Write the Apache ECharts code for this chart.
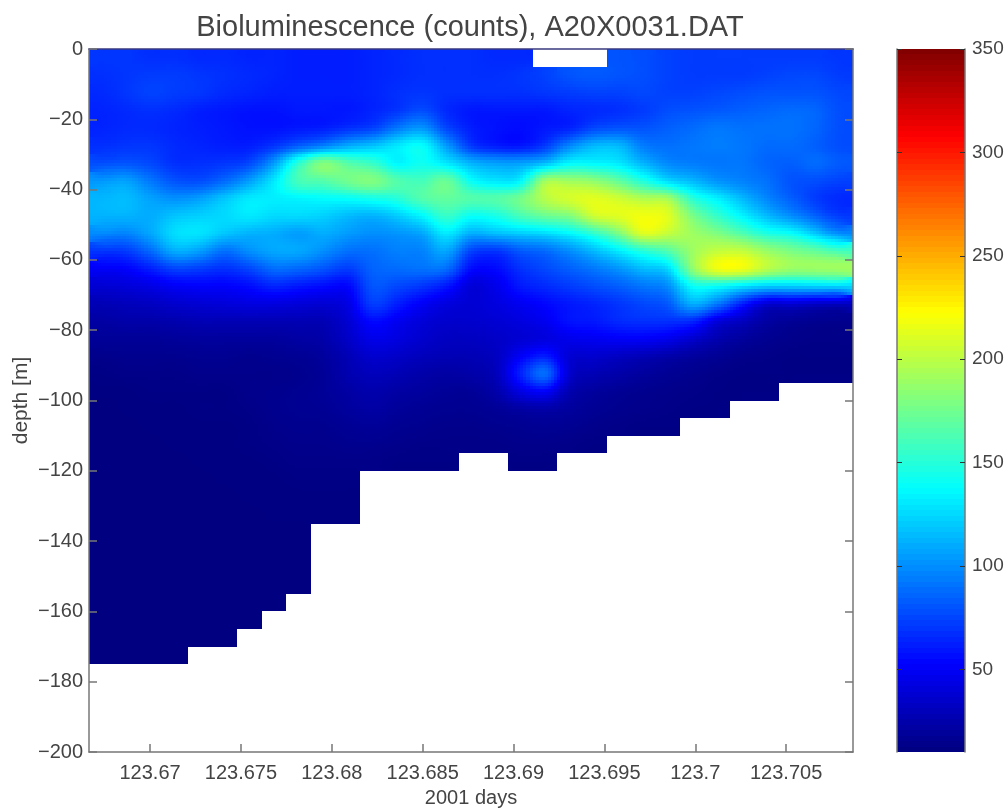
<!DOCTYPE html>
<html>
<head>
<meta charset="utf-8">
<style>html,body{margin:0;padding:0;background:#fff}#c{width:1008px;height:810px}</style>
<script src="https://cdn.jsdelivr.net/npm/echarts@6/dist/echarts.min.js"></script>
</head>
<body>
<div id="c"></div>
<script>
const titleText = 'Bioluminescence (counts), A20X0031.DAT';
const xName = '2001 days';
const yName = 'depth [m]';
const xTicks = [123.67,123.675,123.68,123.685,123.69,123.695,123.7,123.705];
const yTicks = [0,-20,-40,-60,-80,-100,-120,-140,-160,-180,-200];
const barTicks = [50,100,150,200,250,300,350];
const xMin = 123.66664, xMax = 123.70868;
const depthStep = 5;
const barMin = 10, barMax = 350, levels = 128;
const _ = null;
const counts = [
[70,70,68,68,66,66,64,64,62,62,62,64,66,68,68,68,66,66,_,_,_,80,78,74,72,72,72,72,72,72,70],
[68,70,72,72,70,68,66,64,62,62,62,64,66,68,68,68,68,70,74,80,82,80,78,74,72,72,72,74,76,76,72],
[66,70,74,72,70,66,64,62,62,62,62,64,68,70,68,68,68,68,70,72,74,74,76,74,74,76,78,80,80,80,76],
[64,66,68,66,62,60,58,58,60,60,60,64,70,78,66,60,60,60,60,64,66,68,72,78,80,82,84,86,88,86,78],
[64,66,66,64,62,60,58,58,60,62,68,74,92,102,76,62,58,56,60,64,76,80,80,84,88,92,90,90,90,86,78],
[68,70,70,66,64,62,62,70,84,96,110,118,130,138,105,72,62,60,72,98,114,114,94,90,92,94,92,88,88,84,78],
[78,80,76,68,68,70,76,104,150,180,165,155,135,142,130,112,105,105,115,135,135,130,112,98,94,92,92,86,84,88,82],
[103,106,92,80,78,88,105,130,160,165,175,180,165,160,172,140,130,135,190,190,185,170,148,126,114,102,96,90,80,78,74],
[113,115,106,100,105,118,130,132,135,138,140,145,150,165,170,165,165,175,198,208,212,205,195,190,150,132,114,97,84,72,66],
[112,112,110,118,122,125,130,125,125,122,115,112,120,135,155,140,145,160,172,180,205,212,218,212,178,155,135,115,100,85,72],
[98,96,108,126,128,118,112,110,105,110,104,100,102,108,130,110,115,120,125,135,152,178,210,202,190,180,165,148,140,120,100],
[70,72,88,110,105,90,100,108,108,100,90,90,95,96,108,75,70,82,88,100,115,132,150,165,190,202,202,188,178,170,160],
[50,52,62,74,72,68,75,88,86,80,72,85,88,90,88,56,55,68,76,84,92,102,115,125,185,216,216,198,188,188,190],
[38,40,44,50,52,52,56,64,60,56,54,80,76,70,60,40,46,60,66,72,78,84,92,100,140,140,130,122,122,124,125],
[28,30,32,36,38,40,42,42,40,38,44,72,62,50,42,38,42,48,54,60,64,70,76,82,110,92,62,38,38,34,32],
[22,24,24,26,28,28,28,28,28,28,38,55,48,40,36,36,38,42,48,58,60,66,68,68,65,42,32,22,18,16,15],
[18,18,18,19,20,20,20,20,22,24,34,45,42,36,32,32,34,38,42,46,48,50,50,46,36,26,20,16,14,13,13],
[14,15,15,15,16,16,15,16,17,20,28,36,34,30,28,28,32,50,62,38,36,32,28,24,20,17,14,13,12,12,12],
[12,13,13,13,14,14,14,14,15,18,26,30,28,24,22,24,30,62,88,36,28,24,20,17,15,13,12,12,12,12,12],
[11,11,12,12,12,12,14,15,16,18,22,25,22,20,18,18,24,42,50,26,20,17,15,14,13,12,12,12],
[10,11,11,11,12,12,13,15,16,17,20,22,19,17,16,16,18,22,24,20,17,15,14,13,12,12],
[10,10,11,11,11,11,12,14,15,15,17,18,16,15,14,14,15,16,17,16,14,13,12,12],
[10,10,10,11,11,11,12,13,14,14,15,15,14,13,13,13,13,14,14,13,12],
[10,10,10,10,11,11,11,12,13,13,13,13,12,12,12,_,_,12,12],
[10,10,10,10,10,11,11,11,12,12,12],
[10,10,10,10,10,10,11,11,11,11,11],
[10,10,10,10,10,10,10,11,11,11,11],
[10,10,10,10,10,10,10,10,10],
[10,10,10,10,10,10,10,10,10],
[10,10,10,10,10,10,10,10,10],
[10,10,10,10,10,10,10,10,10],
[10,10,10,10,10,10,10,10],
[10,10,10,10,10,10,10],
[10,10,10,10,10,10],
[10,10,10,10]
];
const nCols = 31;
const xStep = (xMax - xMin) / nCols;

function jet(t){
  const c = x => Math.max(0, Math.min(1, 1.5 - Math.abs(4*t - x)));
  return 'rgb(' + Math.round(255*c(3)) + ',' + Math.round(255*c(2)) + ',' + Math.round(255*c(1)) + ')';
}
function colorOf(v){
  return jet(Math.max(0, Math.min(1, (v - barMin) / (barMax - barMin))));
}
function cell(i, j){
  const r = counts[j];
  if (!r) return null;
  const v = r[i];
  return v === undefined ? null : v;
}
function weights(t){
  return [(-t*t*t + 2*t*t - t)/2, (3*t*t*t - 5*t*t + 2)/2, (-3*t*t*t + 4*t*t + t)/2, (t*t*t - t*t)/2];
}
// smooth reconstruction between the cell centres, keeping the blocky edge of the missing cells
function sample(i, j, u, v){
  const own = cell(i, j);
  const bi = u < 0.5 ? i - 1 : i, bj = v < 0.5 ? j - 1 : j;
  const tu = u < 0.5 ? u + 0.5 : u - 0.5, tv = v < 0.5 ? v + 0.5 : v - 0.5;
  const wu = weights(tu), wv = weights(tv);
  let sum = 0;
  for (let a = 0; a < 4; a++) for (let b = 0; b < 4; b++) {
    const c = cell(bi - 1 + a, bj - 1 + b);
    sum += wu[a] * wv[b] * (c === null ? own : c);
  }
  return sum;
}
const cellData = [];
counts.forEach((row, j) => row.forEach((v, i) => {
  if (v !== null) cellData.push([xMin + (i + 0.5) * xStep, -(j + 0.5) * depthStep, v, i, j]);
}));
const subX = 8, subY = 6;
function renderCell(params, api){
  const i = api.value(3), j = api.value(4);
  const x0 = xMin + i * xStep, y0 = -j * depthStep;
  const children = [];
  for (let a = 0; a < subX; a++) for (let b = 0; b < subY; b++) {
    const p0 = api.coord([x0 + a / subX * xStep, y0 - b / subY * depthStep]);
    const p1 = api.coord([x0 + (a + 1) / subX * xStep, y0 - (b + 1) / subY * depthStep]);
    const l = Math.round(p0[0]), t = Math.round(p0[1]);
    children.push({type:'rect', shape:{x:l, y:t, width:Math.round(p1[0]) - l, height:Math.round(p1[1]) - t},
      style:{fill: colorOf(sample(i, j, (a + 0.5) / subX, (b + 0.5) / subY))}, silent:true});
  }
  return {type:'group', children};
}
const barData = [];
for (let k = 0; k < levels; k++) barData.push([0, barMin + k * (barMax - barMin) / levels, k]);
function renderBar(params, api){
  const k = api.value(2);
  const step = (barMax - barMin) / levels;
  const p0 = api.coord([0, barMin + k * step]);
  const p1 = api.coord([1, barMin + (k + 1) * step]);
  return {type:'rect', shape:{x:p0[0], y:Math.round(p1[1]), width:p1[0] - p0[0], height:Math.round(p0[1]) - Math.round(p1[1])},
    style:{fill: jet((k + 0.5) / levels)}, silent:true};
}
const ink = '#444444', frame = '#777777', font = 'Liberation Sans';
const lineStyle = {color: frame, width: 1.5};
const chart = echarts.init(document.getElementById('c'), null, {renderer:'canvas'});
chart.setOption({
  animation:false,
  backgroundColor:'#fff',
  title:{text:titleText, left:465, top:8, textAlign:'center',
    textStyle:{fontFamily:font, fontSize:29, fontWeight:'normal', color:ink}},
  grid:[
    {left:89, top:49, width:764, height:703, containLabel:false, outerBoundsMode:'none'},
    {left:897, top:49, width:68, height:703, containLabel:false, outerBoundsMode:'none'}
  ],
  xAxis:[
    {type:'value', gridIndex:0, min:xMin, max:xMax, position:'bottom', z:10,
     splitLine:{show:false}, axisLine:{show:true, onZero:false, lineStyle},
     axisTick:{show:true, inside:true, length:8, customValues:xTicks, lineStyle},
     axisLabel:{show:true, customValues:xTicks, margin:11, color:ink, fontFamily:font, fontSize:20, hideOverlap:false,
       formatter:v => String(parseFloat(v.toFixed(3)))},
     name:xName, nameLocation:'middle', nameGap:36, nameMoveOverlap:false,
     nameTextStyle:{color:ink, fontFamily:font, fontSize:20}},
    {type:'value', gridIndex:0, min:xMin, max:xMax, position:'top', z:10,
     splitLine:{show:false}, axisLine:{show:true, onZero:false, lineStyle:{color:'#3a3a80', width:1.5}},
     axisTick:{show:false}, axisLabel:{show:false}},
    {type:'value', gridIndex:1, min:0, max:1, show:false, splitLine:{show:false}}
  ],
  yAxis:[
    {type:'value', gridIndex:0, min:-200, max:0, interval:20, position:'left', z:10,
     splitLine:{show:false}, axisLine:{show:true, onZero:false, lineStyle},
     axisTick:{show:true, inside:true, length:8, lineStyle},
     axisLabel:{show:true, customValues:yTicks, margin:6, color:ink, fontFamily:font, fontSize:20, hideOverlap:false,
       formatter:v => String(v).replace('-', '\u2212')},
     name:yName, nameLocation:'middle', nameGap:57, nameRotate:90, nameMoveOverlap:false,
     nameTextStyle:{color:ink, fontFamily:font, fontSize:21}},
    {type:'value', gridIndex:0, min:-200, max:0, interval:20, position:'right', z:10,
     splitLine:{show:false}, axisLine:{show:true, onZero:false, lineStyle},
     axisTick:{show:true, inside:true, length:8, lineStyle}, axisLabel:{show:false}},
    {type:'value', gridIndex:1, min:barMin, max:barMax, position:'right', z:10,
     splitLine:{show:false}, axisLine:{show:true, onZero:false, lineStyle},
     axisTick:{show:true, inside:true, length:5, customValues:barTicks, lineStyle:{color:'#333', width:1}},
     axisLabel:{show:true, customValues:barTicks, margin:7, color:ink, fontFamily:font, fontSize:19, hideOverlap:false}},
    {type:'value', gridIndex:1, min:barMin, max:barMax, position:'left', z:10,
     splitLine:{show:false}, axisLine:{show:true, onZero:false, lineStyle},
     axisTick:{show:true, inside:true, length:5, customValues:barTicks, lineStyle:{color:'#333', width:1}},
     axisLabel:{show:false}}
  ],
  series:[
    {type:'custom', name:'Bioluminescence', coordinateSystem:'cartesian2d', xAxisIndex:0, yAxisIndex:0,
     renderItem:renderCell, data:cellData, encode:{x:0, y:1}, clip:true, silent:true, progressive:0, animation:false},
    {type:'custom', name:'Colorbar', coordinateSystem:'cartesian2d', xAxisIndex:2, yAxisIndex:2,
     renderItem:renderBar, data:barData, encode:{x:0, y:1}, clip:true, silent:true, progressive:0, animation:false}
  ]
});
</script>
</body>
</html>
